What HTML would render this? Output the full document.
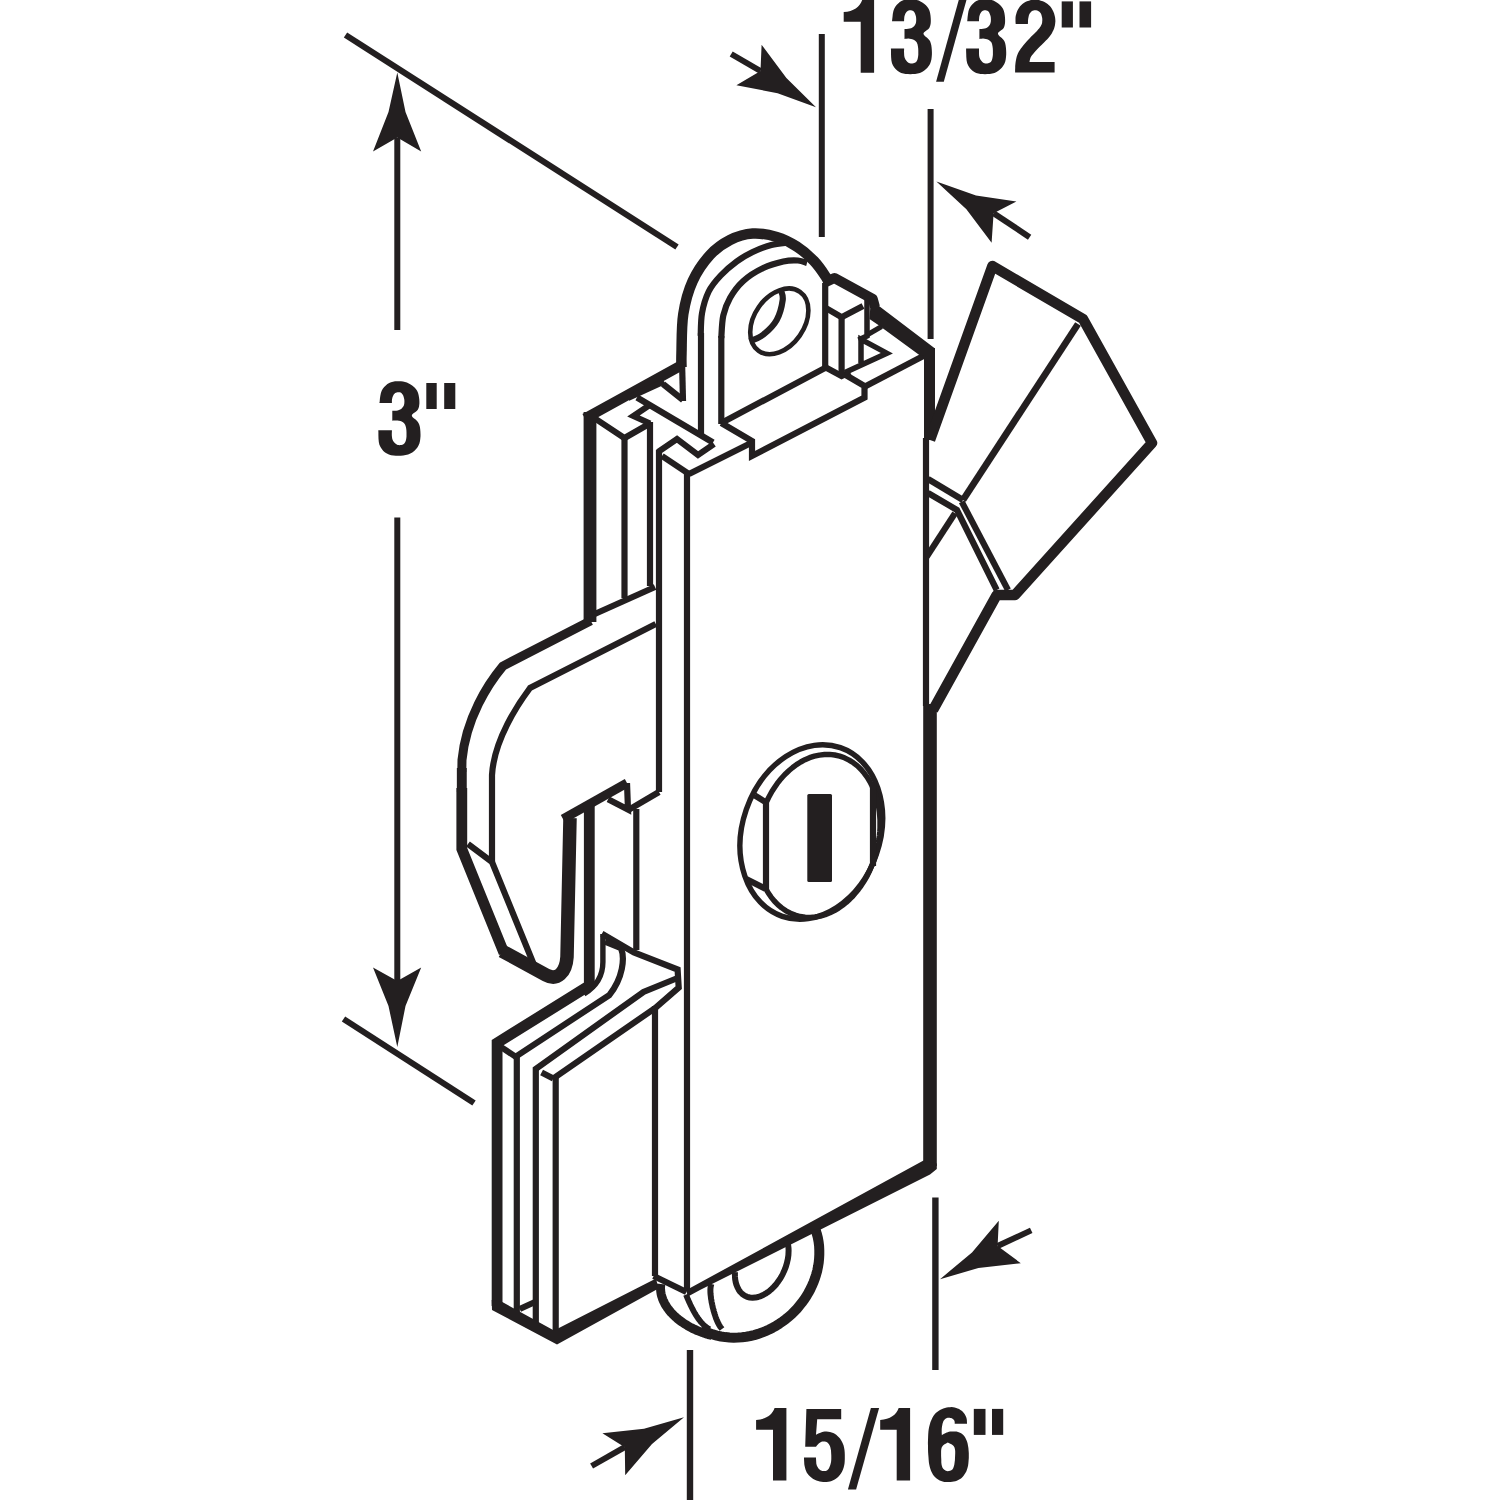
<!DOCTYPE html>
<html><head><meta charset="utf-8"><style>
html,body{margin:0;padding:0;background:#fff;}
svg{display:block;}
</style></head><body>
<svg xmlns="http://www.w3.org/2000/svg" width="1500" height="1500" viewBox="0 0 1500 1500">
<rect width="1500" height="1500" fill="#fff"/>
<g fill="none" stroke="#231f20">
<line x1="345.5" y1="35" x2="677" y2="247" stroke-width="6.2" stroke-linecap="butt"/>
<line x1="343.5" y1="1019" x2="474" y2="1103" stroke-width="6.2" stroke-linecap="butt"/>
<polygon points="397.3,72.5 405.5,112 421.2,151.5 397.3,137.5 373,151.5 388.5,112" fill="#231f20" stroke="none"/>
<line x1="397.3" y1="137.5" x2="397.3" y2="330" stroke-width="6" stroke-linecap="butt"/>
<polygon points="397.3,1047 388.5,1006 373,967.5 397.3,981 421.2,967.5 405.5,1006" fill="#231f20" stroke="none"/>
<line x1="397.3" y1="981" x2="397.3" y2="517.5" stroke-width="6" stroke-linecap="butt"/>
<line x1="821.8" y1="34" x2="821.8" y2="237" stroke-width="6" stroke-linecap="butt"/>
<line x1="930.6" y1="109" x2="930.6" y2="339" stroke-width="6" stroke-linecap="butt"/>
<polygon points="816,107.2 786.4,78 761.6,44.8 760.5,71 736.4,85.2 777.6,93.2" fill="#231f20" stroke="none"/>
<line x1="760.5" y1="71" x2="731.2" y2="54" stroke-width="6.0" stroke-linecap="butt"/>
<polygon points="936.4,181.6 976,195.6 1016.4,201.6 993.6,213.2 991.6,242.8 966.4,209.2" fill="#231f20" stroke="none"/>
<line x1="993.6" y1="213.2" x2="1029.6" y2="237.2" stroke-width="6.0" stroke-linecap="butt"/>
<line x1="935.4" y1="1197.6" x2="935.4" y2="1370" stroke-width="6.4" stroke-linecap="butt"/>
<line x1="690" y1="1350" x2="690" y2="1500" stroke-width="6.4" stroke-linecap="butt"/>
<polygon points="940,1279.2 972,1252.4 998.8,1220.8 997.6,1246 1020.8,1263.2 978.4,1268" fill="#231f20" stroke="none"/>
<line x1="997.6" y1="1246" x2="1031.2" y2="1230.4" stroke-width="6.0" stroke-linecap="butt"/>
<polygon points="684,1417.2 644,1428.8 602.4,1433.2 624.8,1447.2 625.2,1475.2 652,1444" fill="#231f20" stroke="none"/>
<line x1="624.8" y1="1447.2" x2="591.6" y2="1466" stroke-width="6.0" stroke-linecap="butt"/>
<polygon points="379.4,403.1 391.9,403.1 391.9,403.1 391.9,402.4 391.9,401.4 391.9,400.3 392.1,399.1 392.3,398.1 392.6,397.1 393,396.1 393.4,395.2 393.9,394.3 394.5,393.7 395.2,393.1 395.9,392.7 396.7,392.4 397.5,392.2 398.2,392.2 399,392.2 399.8,392.3 400.6,392.6 401.4,393 402,393.7 402.6,394.5 403.2,395.6 403.7,396.9 404,398.2 404.3,399.5 404.4,400.8 404.4,402.1 404.3,403.5 404,404.9 403.6,406 402.9,407.1 402.1,408 401.2,408.9 400.1,409.6 399,410.1 397.7,410.5 396.2,410.7 394.6,410.8 393.2,410.8 392.3,410.8 392.3,410.8 392.3,420.7 392.3,420.7 393.2,420.6 394.5,420.5 396.1,420.4 397.6,420.5 399,420.7 400.4,421.1 401.7,421.6 403,422.3 404.1,423.2 405,424.4 405.6,426 406.1,428.1 406.4,430.3 406.5,432.6 406.5,434.6 406.5,436.4 406.3,438.2 406,439.9 405.5,441.4 405,442.6 404.3,443.5 403.4,444.2 402.4,444.7 401.4,444.9 400.5,445.1 399.6,445.2 398.6,445.1 397.7,444.9 396.8,444.6 396,444 395.1,443.3 394.3,442.5 393.5,441.4 392.8,440.3 392.3,438.9 392,437.3 391.8,435.3 391.8,433.2 391.9,431.4 391.9,430.2 391.9,430.2 378.3,430.2 378.3,430.2 378.4,432.3 378.4,435.3 378.5,438.7 378.8,442 379.4,444.8 380.5,447.1 381.8,449.1 383.3,450.9 385.1,452.4 386.9,453.6 388.9,454.5 391.1,455.2 393.5,455.6 395.8,455.7 398.2,455.8 400.7,455.7 403.2,455.5 405.7,455.1 408.1,454.5 410.3,453.6 412.3,452.4 414.2,451 415.9,449.3 417.4,447.5 418.5,445.5 419.4,443.4 420,441.1 420.3,438.6 420.5,436.2 420.5,433.9 420.4,431.6 420.2,429.2 419.9,427 419.3,424.8 418.5,422.9 417.3,421.2 415.6,419.6 413.8,418.2 412.4,416.9 411.8,415.6 412.2,414.4 413.5,413.3 415.1,412.2 416.7,411 417.8,409.7 418.5,408.3 419,406.8 419.2,405.2 419.4,403.5 419.4,401.6 419.3,399.6 419,397.3 418.6,394.9 418,392.7 417.1,390.7 415.9,388.9 414.3,387.3 412.5,385.8 410.6,384.5 408.8,383.4 406.9,382.6 405,382 403,381.5 401,381.3 399,381.2 397,381.2 395,381.3 393,381.7 391,382.2 389.2,383 387.4,384.1 385.8,385.4 384.2,387 382.8,388.7 381.7,390.7 380.9,393.1 380.3,395.9 379.9,398.8 379.7,401.4 379.4,403.1" fill="#231f20" stroke="none"/>
<rect x="426.3" y="383" width="10.4" height="26" fill="#231f20" stroke="none"/>
<rect x="444.2" y="383" width="11.1" height="26" fill="#231f20" stroke="none"/>
<path d="M874.1,0 L874.1,72.8 L860.7,72.8 L860.7,21.8 L843.7,21.8 L843.7,12 C853.7,11.5 859.7,7 862.2,0 Z" fill="#231f20" stroke="none"/>
<polygon points="892,21.3 904.1,21.3 904.1,21.3 904.1,20.6 904.1,19.5 904.2,18.4 904.3,17.2 904.5,16.1 904.8,15.2 905.1,14.2 905.6,13.3 906.1,12.4 906.7,11.7 907.3,11.2 908,10.8 908.7,10.5 909.5,10.3 910.3,10.2 911,10.3 911.8,10.4 912.6,10.7 913.3,11.1 913.9,11.7 914.5,12.6 915.1,13.7 915.5,15 915.9,16.3 916.1,17.5 916.2,18.9 916.2,20.3 916.1,21.7 915.9,23 915.4,24.2 914.8,25.2 914.1,26.2 913.1,27 912.1,27.7 911.1,28.3 909.8,28.6 908.3,28.8 906.7,28.9 905.4,28.9 904.5,29 904.5,29 904.5,38.9 904.5,38.9 905.4,38.8 906.7,38.7 908.2,38.6 909.7,38.7 911.1,38.9 912.3,39.3 913.6,39.8 914.9,40.5 916,41.4 916.8,42.6 917.5,44.3 917.9,46.3 918.2,48.6 918.3,50.8 918.3,52.8 918.3,54.7 918.1,56.5 917.8,58.2 917.4,59.7 916.8,61 916.1,61.9 915.3,62.5 914.3,63 913.4,63.3 912.4,63.5 911.6,63.5 910.7,63.5 909.8,63.3 908.9,62.9 908.1,62.4 907.2,61.7 906.4,60.8 905.6,59.8 905,58.6 904.5,57.3 904.2,55.6 904.1,53.6 904,51.5 904.1,49.7 904.1,48.4 904.1,48.4 890.9,48.4 890.9,48.4 891,50.5 891,53.5 891.1,57 891.4,60.4 892,63.2 893,65.4 894.3,67.4 895.8,69.2 897.5,70.7 899.3,72 901.2,72.9 903.4,73.6 905.6,74 907.9,74.1 910.3,74.2 912.6,74.1 915.1,73.9 917.6,73.5 919.9,72.9 922,72 924,70.8 925.8,69.3 927.4,67.7 928.9,65.8 930,63.9 930.8,61.7 931.4,59.4 931.7,57 931.9,54.5 931.9,52.1 931.8,49.8 931.6,47.5 931.3,45.2 930.7,43.1 930,41.1 928.8,39.4 927.1,37.8 925.4,36.4 924,35.1 923.4,33.8 923.9,32.6 925.1,31.4 926.7,30.3 928.2,29.2 929.3,27.9 929.9,26.4 930.4,24.9 930.7,23.3 930.8,21.6 930.8,19.8 930.7,17.7 930.5,15.4 930.1,13 929.5,10.7 928.6,8.7 927.4,6.9 925.9,5.3 924.1,3.8 922.3,2.5 920.5,1.4 918.7,0.6 916.8,-0 914.9,-0.5 913,-0.7 911.1,-0.8 909.1,-0.8 907.1,-0.7 905.1,-0.3 903.2,0.2 901.5,1 899.8,2.1 898.2,3.4 896.6,5 895.3,6.8 894.2,8.7 893.4,11.1 892.8,14 892.5,16.9 892.2,19.5 892,21.3" fill="#231f20" stroke="none"/>
<polygon points="936.1,81.7 943.8,81.7 966.6,-0.5 958.9,-0.5" fill="#231f20" stroke="none"/>
<polygon points="967.2,21.3 979,21.3 979,21.3 979,20.6 979,19.5 979.1,18.4 979.2,17.2 979.4,16.1 979.7,15.2 980,14.2 980.5,13.3 981,12.4 981.5,11.7 982.1,11.2 982.8,10.8 983.6,10.5 984.3,10.3 985,10.2 985.8,10.3 986.5,10.4 987.3,10.7 988,11.1 988.6,11.7 989.2,12.6 989.7,13.7 990.2,15 990.6,16.3 990.8,17.5 990.9,18.9 990.9,20.3 990.8,21.7 990.5,23 990.1,24.2 989.5,25.2 988.7,26.2 987.9,27 986.9,27.7 985.8,28.3 984.6,28.6 983.1,28.8 981.6,28.9 980.3,28.9 979.4,29 979.4,29 979.4,38.9 979.4,38.9 980.3,38.8 981.5,38.7 983,38.6 984.5,38.7 985.8,38.9 987.1,39.3 988.3,39.8 989.5,40.5 990.6,41.4 991.5,42.6 992.1,44.3 992.5,46.3 992.8,48.6 992.9,50.8 992.9,52.8 992.9,54.7 992.7,56.5 992.4,58.2 992,59.7 991.5,61 990.8,61.9 990,62.5 989,63 988.1,63.3 987.2,63.5 986.3,63.5 985.4,63.5 984.5,63.3 983.7,62.9 982.9,62.4 982.1,61.7 981.3,60.8 980.5,59.8 979.9,58.6 979.4,57.3 979.1,55.6 979,53.6 979,51.5 979,49.7 979,48.4 979,48.4 966.1,48.4 966.1,48.4 966.1,50.5 966.2,53.5 966.3,57 966.6,60.4 967.2,63.2 968.2,65.4 969.4,67.4 970.9,69.2 972.5,70.7 974.3,72 976.2,72.9 978.3,73.6 980.5,74 982.8,74.1 985,74.2 987.3,74.1 989.8,73.9 992.2,73.5 994.5,72.9 996.5,72 998.4,70.8 1000.2,69.3 1001.8,67.7 1003.2,65.8 1004.3,63.9 1005.2,61.7 1005.7,59.4 1006,57 1006.2,54.5 1006.2,52.1 1006.1,49.8 1005.9,47.5 1005.6,45.2 1005.1,43.1 1004.3,41.1 1003.2,39.4 1001.5,37.8 999.8,36.4 998.5,35.1 997.9,33.8 998.3,32.6 999.5,31.4 1001.1,30.3 1002.6,29.2 1003.7,27.9 1004.3,26.4 1004.7,24.9 1005,23.3 1005.1,21.6 1005.1,19.8 1005,17.7 1004.8,15.4 1004.4,13 1003.8,10.7 1003,8.7 1001.8,6.9 1000.3,5.3 998.6,3.8 996.8,2.5 995.1,1.4 993.3,0.6 991.5,-0 989.6,-0.5 987.7,-0.7 985.8,-0.8 983.9,-0.8 982,-0.7 980,-0.3 978.2,0.2 976.4,1 974.8,2.1 973.2,3.4 971.7,5 970.4,6.8 969.3,8.7 968.5,11.1 968,14 967.6,16.9 967.4,19.5 967.2,21.3" fill="#231f20" stroke="none"/>
<path d="M1015.7,24 L1027.9,24 L1027.9,24 L1027.9,23.3 L1028,22.2 L1028,21 L1028.1,19.8 L1028.2,18.7 L1028.4,17.7 L1028.6,16.7 L1028.8,15.7 L1029.1,14.7 L1029.5,13.9 L1030,13.1 L1030.6,12.4 L1031.2,11.7 L1032,11.1 L1032.7,10.7 L1033.5,10.4 L1034.4,10.2 L1035.3,10.2 L1036.2,10.2 L1037,10.4 L1037.8,10.7 L1038.6,11.2 L1039.4,11.8 L1040.1,12.5 L1040.7,13.3 L1041.2,14.3 L1041.6,15.4 L1041.9,16.7 L1042.2,18 L1042.3,19.2 L1042.3,20.4 L1042.2,21.6 L1042.1,22.7 L1041.8,23.9 L1041.3,25.1 L1040.7,26.2 L1040,27.3 L1039.1,28.5 L1038.1,29.6 L1037,30.9 L1035.7,32.3 L1034.2,33.7 L1032.6,35.2 L1031,36.8 L1029.5,38.4 L1028,40 L1026.4,41.8 L1024.9,43.5 L1023.4,45.2 L1022.1,46.9 L1020.9,48.5 L1019.9,50.1 L1018.9,51.6 L1018,53.2 L1017.3,54.9 L1016.7,56.7 L1016.3,58.5 L1015.9,60.4 L1015.6,62.2 L1015.4,64 L1015.2,65.9 L1015.2,67.9 L1015.1,69.7 L1015.1,71.4 L1015.1,72.5 L1015.1,72.5 L1054.6,72.5 L1054.6,61.9 L1029.5,61.9 L1029.5,61.9 L1029.6,61.2 L1029.8,60.2 L1030.1,59 L1030.5,57.8 L1031.1,56.5 L1032,55.2 L1033.1,53.9 L1034.3,52.5 L1035.6,51 L1037,49.6 L1038.4,48.1 L1039.9,46.6 L1041.5,45.1 L1043,43.6 L1044.5,42.1 L1045.9,40.6 L1047.3,39.2 L1048.6,37.7 L1049.8,36.2 L1050.9,34.7 L1051.9,33.2 L1052.7,31.6 L1053.5,30 L1054.1,28.4 L1054.6,26.7 L1055,25 L1055.2,23.2 L1055.4,21.3 L1055.3,19.5 L1055.1,17.6 L1054.7,15.7 L1054.1,13.6 L1053.3,11.6 L1052.4,9.7 L1051.4,8 L1050.3,6.5 L1049,5.2 L1047.6,4 L1046.1,3 L1044.5,2.1 L1042.8,1.3 L1040.9,0.7 L1038.9,0.1 L1036.9,-0.2 L1034.9,-0.3 L1032.9,-0.2 L1030.9,0.1 L1028.9,0.7 L1027,1.3 L1025.3,2.1 L1023.8,3 L1022.4,4.1 L1021.1,5.3 L1019.9,6.6 L1018.9,8 L1018,9.5 L1017.2,11 L1016.6,12.7 L1016.1,14.4 L1015.7,16 L1015.5,17.7 L1015.5,19.6 L1015.5,21.4 L1015.6,22.9 L1015.7,24 Z" fill="#231f20" fill-rule="evenodd" stroke="none"/>
<rect x="1061.7" y="1.4" width="11.2" height="26.1" fill="#231f20" stroke="none"/>
<rect x="1079.5" y="1.4" width="11.6" height="26.1" fill="#231f20" stroke="none"/>
<path d="M786.4,1408 L786.4,1480.4 L773,1480.4 L773,1429.7 L756.1,1429.7 L756.1,1419.9 C766.1,1419.4 772.1,1414.9 774.6,1408 Z" fill="#231f20" stroke="none"/>
<path d="M806.4,1409 L841.2,1409 L841.2,1419.2 L817.2,1419.2 L816,1434.8 L816,1434.8 L817,1434.3 L818.3,1433.6 L819.9,1432.9 L821.6,1432.2 L823.2,1431.8 L824.8,1431.6 L826.5,1431.6 L828.3,1431.7 L830,1432 L831.6,1432.4 L833.2,1433 L834.7,1433.8 L836.2,1434.8 L837.5,1435.9 L838.8,1437.2 L840,1438.6 L841.1,1440.2 L842.1,1441.9 L842.9,1443.7 L843.6,1445.6 L844.1,1447.7 L844.5,1450 L844.7,1452.3 L844.8,1454.7 L844.8,1457 L844.8,1459.2 L844.7,1461.5 L844.5,1463.7 L844.1,1465.8 L843.6,1467.8 L842.9,1469.7 L842.1,1471.5 L841.1,1473.2 L840,1474.8 L838.8,1476.2 L837.5,1477.5 L836.2,1478.6 L834.7,1479.5 L833.2,1480.3 L831.6,1481 L830,1481.5 L828.3,1481.8 L826.6,1481.9 L824.9,1482 L823.2,1481.9 L821.5,1481.7 L819.8,1481.5 L818.1,1481.1 L816.4,1480.5 L814.8,1479.8 L813.2,1478.9 L811.6,1477.8 L810.1,1476.5 L808.8,1475.2 L807.6,1473.8 L806.7,1472.4 L806,1470.8 L805.4,1469.2 L805,1467.6 L804.6,1466 L804.3,1464.2 L804.2,1462.3 L804.1,1460.4 L804,1458.8 L804,1457.6 L804,1457.6 L816,1457.6 L816,1457.6 L816,1458.6 L816.1,1460.1 L816.2,1461.7 L816.3,1463.4 L816.6,1464.8 L817,1466 L817.6,1467.1 L818.2,1468 L818.9,1468.9 L819.6,1469.6 L820.4,1470.2 L821.2,1470.6 L822.1,1470.9 L822.9,1471 L823.8,1471.1 L824.7,1471.1 L825.6,1470.9 L826.4,1470.7 L827.3,1470.2 L828,1469.6 L828.7,1468.7 L829.3,1467.6 L829.8,1466.3 L830.3,1465 L830.7,1463.6 L831,1462.2 L831.2,1460.6 L831.3,1459 L831.3,1457.4 L831.3,1455.8 L831.2,1454.1 L831.1,1452.3 L831,1450.5 L830.7,1448.9 L830.4,1447.4 L830,1446.2 L829.4,1445 L828.8,1444.1 L828.1,1443.3 L827.4,1442.6 L826.6,1442.1 L825.8,1441.7 L824.9,1441.5 L824.1,1441.4 L823.2,1441.4 L822.3,1441.5 L821.5,1441.8 L820.6,1442.2 L819.8,1442.7 L819,1443.2 L818.3,1443.9 L817.6,1444.7 L816.9,1445.5 L816.4,1446.3 L816,1446.8 L816,1446.8 L805.2,1446.8 L806.4,1409 Z" fill="#231f20" fill-rule="evenodd" stroke="none"/>
<polygon points="847.9,1489.5 856.1,1489.5 879.1,1408 870.9,1408" fill="#231f20" stroke="none"/>
<path d="M910.1,1408 L910.1,1480.4 L896.7,1480.4 L896.7,1429.7 L880.2,1429.7 L880.2,1419.9 C890.2,1419.4 896.2,1414.9 898.7,1408 Z" fill="#231f20" stroke="none"/>
<path d="M954.7,1423.8 L967,1423.8 L967,1423.8 L967,1423 L966.9,1421.8 L966.9,1420.5 L966.7,1419.1 L966.4,1417.8 L965.9,1416.6 L965.3,1415.3 L964.6,1414 L963.8,1412.9 L962.8,1411.8 L961.7,1410.8 L960.4,1409.9 L959.1,1409.1 L957.6,1408.4 L956.2,1407.9 L954.7,1407.5 L953.2,1407.3 L951.6,1407.1 L950,1407.2 L948.4,1407.3 L946.7,1407.6 L945,1408 L943.3,1408.5 L941.6,1409.2 L940,1410 L938.5,1410.9 L937.1,1411.9 L935.8,1413.1 L934.5,1414.4 L933.4,1416 L932.4,1417.8 L931.4,1419.9 L930.5,1422.1 L929.8,1424.4 L929.2,1426.8 L928.7,1429.3 L928.4,1431.8 L928.2,1434.5 L928.1,1437.2 L928,1440 L927.9,1442.9 L928,1446 L928,1449.1 L928.1,1452.2 L928.3,1455 L928.5,1457.6 L928.7,1460.2 L928.9,1462.6 L929.3,1464.8 L929.8,1467 L930.4,1469.1 L931.1,1471 L932,1472.8 L932.9,1474.5 L934,1476 L935.2,1477.3 L936.6,1478.5 L938.1,1479.5 L939.7,1480.4 L941.2,1481.1 L942.7,1481.6 L944.3,1481.9 L945.9,1482 L947.4,1482 L949,1482 L950.6,1482 L952.2,1481.8 L953.8,1481.6 L955.3,1481.3 L956.8,1480.8 L958.2,1480.1 L959.6,1479.3 L961,1478.4 L962.3,1477.2 L963.4,1476 L964.4,1474.6 L965.4,1473.1 L966.3,1471.4 L967,1469.6 L967.6,1467.6 L968.1,1465.4 L968.4,1463.1 L968.6,1460.6 L968.8,1458.1 L968.8,1455.6 L968.8,1453.1 L968.6,1450.6 L968.4,1448.1 L968,1445.7 L967.6,1443.6 L967.1,1441.7 L966.4,1440 L965.7,1438.4 L964.9,1437 L964,1435.8 L963,1434.7 L961.9,1433.8 L960.6,1433 L959.4,1432.4 L958,1431.9 L956.5,1431.6 L954.9,1431.4 L953.2,1431.4 L951.6,1431.5 L950.2,1431.6 L948.9,1431.8 L947.8,1432.2 L946.7,1432.6 L945.7,1433 L944.8,1433.4 L944,1433.8 L943.3,1434.2 L942.7,1434.6 L942.2,1435 L941.8,1435.2 L941.8,1435.2 L941.8,1434.2 L941.7,1432.8 L941.7,1431.2 L941.7,1429.6 L941.8,1428 L942,1426.5 L942.3,1424.9 L942.6,1423.4 L943.1,1422 L943.6,1420.8 L944.3,1419.9 L945.1,1419.1 L946,1418.5 L946.9,1418.1 L947.8,1417.8 L948.7,1417.7 L949.6,1417.7 L950.4,1417.9 L951.3,1418.1 L952,1418.4 L952.6,1418.8 L953.2,1419.2 L953.7,1419.7 L954.1,1420.3 L954.4,1420.8 L954.6,1421.4 L954.7,1422.1 L954.7,1422.8 L954.7,1423.4 L954.7,1423.8 Z M947.8,1442.4 L946.9,1443 L945.6,1443.7 L944.1,1444.6 L942.8,1445.8 L941.8,1447.2 L941.3,1449 L941.1,1451.1 L941.1,1453.5 L941.1,1455.8 L941.2,1458 L941.3,1460.1 L941.3,1462.2 L941.5,1464.2 L941.9,1466.1 L942.4,1467.6 L943.2,1468.8 L944.3,1469.8 L945.4,1470.5 L946.7,1471 L947.8,1471.2 L948.9,1471.1 L950.1,1470.8 L951.3,1470.2 L952.4,1469.4 L953.2,1468.2 L953.8,1466.6 L954.3,1464.7 L954.6,1462.5 L954.9,1460.2 L955,1458 L955.1,1455.8 L955.2,1453.4 L955.2,1451.1 L954.9,1449 L954.4,1447.2 L953.4,1445.8 L951.9,1444.6 L950.3,1443.7 L948.8,1443 L947.8,1442.4 Z" fill="#231f20" fill-rule="evenodd" stroke="none"/>
<rect x="973.8" y="1408.9" width="11.7" height="26" fill="#231f20" stroke="none"/>
<rect x="992" y="1408.9" width="11.2" height="26" fill="#231f20" stroke="none"/>
<line x1="687" y1="472" x2="687" y2="1291" stroke-width="6.2" stroke-linecap="butt"/>
<line x1="926" y1="438" x2="926" y2="706" stroke-width="6.2" stroke-linecap="butt"/>
<line x1="930" y1="704" x2="930" y2="1166" stroke-width="13.6" stroke-linecap="butt"/>
<polygon points="686,1290.3 923.5,1160.4 936.8,1163.5 936.8,1169 930,1174.5 700,1290.1 688,1296.5" fill="#231f20" stroke="none"/>
<line x1="689" y1="474" x2="752" y2="442.5" stroke-width="6.2" stroke-linecap="butt"/>
<line x1="865" y1="386.5" x2="931" y2="352" stroke-width="6.2" stroke-linecap="butt"/>
<polyline points="662,456 689,474" stroke-width="6.2" stroke-linejoin="miter" stroke-linecap="butt"/>
<path d="M681.5,367 C681.5,364.7 681.2,361.8 681.5,353 C681.8,344.2 681.4,326 683.3,314 C685.2,302 688.2,290.8 692.7,281 C697.2,271.2 703.8,261.8 710,255 C716.2,248.2 722.9,243.6 730,240 C737.1,236.4 744.9,234 752.7,233.5 C760.5,233 769.4,234.8 776.7,237 C784,239.2 790.5,242.5 796.7,246.5 C802.9,250.5 809.1,255.9 814,261 C818.9,266.1 823.5,273.2 826,277 C828.5,280.8 828.5,282.8 829,284" stroke-width="10.5" stroke-linejoin="round" stroke-linecap="butt"/>
<polyline points="826,282 834.4,278 872.8,299 875,307" stroke-width="10" stroke-linejoin="round" stroke-linecap="butt"/>
<polygon points="871,296 879,306 935,348.5 935,357 920,355.5 878.3,325 869.5,319" fill="#231f20" stroke="none"/>
<line x1="929.5" y1="348" x2="929.5" y2="440" stroke-width="11" stroke-linecap="butt"/>
<polyline points="682,365 585,418.5" stroke-width="10.5" stroke-linejoin="miter" stroke-linecap="butt"/>
<line x1="590" y1="412" x2="590" y2="622" stroke-width="12.8" stroke-linecap="butt"/>
<line x1="682" y1="360" x2="683" y2="401" stroke-width="6.2" stroke-linecap="butt"/>
<polyline points="663,384 683,400" stroke-width="6.2" stroke-linejoin="miter" stroke-linecap="butt"/>
<polyline points="628,398 664,381.5" stroke-width="6" stroke-linejoin="miter" stroke-linecap="butt"/>
<polyline points="595,418.5 624.5,438 649,424" stroke-width="6.2" stroke-linejoin="miter" stroke-linecap="butt"/>
<line x1="624.5" y1="436" x2="624.5" y2="598" stroke-width="6.2" stroke-linecap="butt"/>
<line x1="650" y1="422" x2="650" y2="586" stroke-width="6.2" stroke-linecap="butt"/>
<polyline points="649,405.5 633.5,416 650,423.5" stroke-width="6.2" stroke-linejoin="miter" stroke-linecap="butt"/>
<polyline points="637,397.5 713,442.5" stroke-width="6.2" stroke-linejoin="miter" stroke-linecap="butt"/>
<polyline points="658,452 677,439 698,455 714,444" stroke-width="6.2" stroke-linejoin="miter" stroke-linecap="butt"/>
<line x1="659" y1="450" x2="659" y2="792" stroke-width="6.2" stroke-linecap="butt"/>
<line x1="701" y1="333" x2="701" y2="436" stroke-width="6.2" stroke-linecap="butt"/>
<line x1="721.3" y1="336" x2="721.3" y2="424" stroke-width="6.2" stroke-linecap="butt"/>
<path d="M700.7,336 C700.9,332.2 700.7,320.7 702,313.3 C703.3,305.9 705.6,297.8 708.7,291.5 C711.8,285.2 716,280.5 720.7,275.5 C725.4,270.5 731.4,265.4 736.7,261.5 C742,257.6 746.9,254.8 752.7,252 C758.5,249.2 765.4,246.6 771.3,245 C777.2,243.4 785.2,242.9 788,242.5" stroke-width="6.2" stroke-linejoin="round" stroke-linecap="butt"/>
<path d="M721.3,338 C721.6,334.2 721.8,322.2 723.3,315.5 C724.8,308.8 726.7,303.8 730,298 C733.3,292.2 737.8,286 743.3,281 C748.8,276 756.6,271.2 763.3,268 C770,264.8 777.5,262.8 783.3,261.5 C789.1,260.2 794,260.2 798,260.5 C802,260.8 805.5,262.6 807,263" stroke-width="6.2" stroke-linejoin="round" stroke-linecap="butt"/>
<line x1="825.2" y1="283" x2="825.2" y2="367" stroke-width="6.2" stroke-linecap="butt"/>
<polyline points="721.3,423 825.9,367.5 841.6,376 850,372" stroke-width="6.2" stroke-linejoin="miter" stroke-linecap="butt"/>
<ellipse cx="779.3" cy="321.3" rx="36" ry="25" transform="rotate(-55 779.3 321.3)" stroke-width="4.6"/>
<path d="M780.7,289.3 C781,291.1 783.4,294.9 782.7,300 C782,305.1 779.9,314.2 776.7,320 C773.5,325.8 767.8,331.1 763.3,334.7 C758.8,338.2 752.2,340.2 750,341.3" stroke-width="6.2" stroke-linejoin="round" stroke-linecap="butt"/>
<polyline points="721.3,423 752,441 752,456 864.5,397.5 864.5,386 844,374" stroke-width="6.2" stroke-linejoin="miter" stroke-linecap="butt"/>
<polyline points="825.2,307.6 841.6,317.2 863,306" stroke-width="6.2" stroke-linejoin="miter" stroke-linecap="butt"/>
<line x1="841.6" y1="317" x2="841.6" y2="376" stroke-width="6.2" stroke-linecap="butt"/>
<polyline points="867,300 867,336 858.5,340" stroke-width="5.5" stroke-linejoin="miter" stroke-linecap="butt"/>
<polyline points="867,335 881.6,326.5" stroke-width="5" stroke-linejoin="miter" stroke-linecap="butt"/>
<polyline points="861,363 861,339.3 886.8,353.2 845,372.5" stroke-width="5.5" stroke-linejoin="miter" stroke-linecap="butt"/>
<path d="M590.8,620.7 L503,666 C488,684 466,718 462,760 L461.8,772" stroke-width="9" stroke-linejoin="miter" stroke-linecap="butt"/>
<line x1="461.8" y1="768" x2="461.8" y2="792" stroke-width="9.9" stroke-linecap="butt"/>
<path d="M461.8,788 L461.8,849 L504,953" stroke-width="10.8" stroke-linejoin="miter" stroke-linecap="butt"/>
<path d="M502,951 L546,975 C557,981 566,973 567,957 L570,818" stroke-width="13.5" stroke-linejoin="round" stroke-linecap="butt"/>
<polyline points="563,819 627,783" stroke-width="9" stroke-linejoin="miter" stroke-linecap="butt"/>
<polyline points="592.5,615 655,587" stroke-width="6.2" stroke-linejoin="miter" stroke-linecap="butt"/>
<path d="M655.8,624 L530,688 C518,704 494,740 492,775 L492,862" stroke-width="6.2" stroke-linejoin="miter" stroke-linecap="butt"/>
<polyline points="468,844 492,862 534,965" stroke-width="6.2" stroke-linejoin="miter" stroke-linecap="butt"/>
<polyline points="659,792 629,809.6" stroke-width="6.2" stroke-linejoin="miter" stroke-linecap="butt"/>
<polyline points="608.1,799.2 628,809.6 627,783" stroke-width="6.2" stroke-linejoin="miter" stroke-linecap="butt"/>
<line x1="636.3" y1="809" x2="636.3" y2="950" stroke-width="6.2" stroke-linecap="butt"/>
<polyline points="497.1,1306 497.1,1043 589.3,985.5 589.3,806" stroke-width="10.8" stroke-linejoin="miter" stroke-linecap="butt"/>
<path d="M584,994 C597,986 602.9,975 602.9,962 L602.9,934" stroke-width="5.4" stroke-linejoin="miter" stroke-linecap="butt"/>
<polyline points="601.9,933.7 633.9,952.4 677.6,969.5 678.7,987.6 655.2,1008 554,1078" stroke-width="6.2" stroke-linejoin="miter" stroke-linecap="butt"/>
<path d="M605,941.7 L621,948.1 C625,958 623,978 609.3,995.1 L515.2,1057" stroke-width="6.2" stroke-linejoin="miter" stroke-linecap="butt"/>
<polyline points="501,1047 516.8,1057.5" stroke-width="6.2" stroke-linejoin="miter" stroke-linecap="butt"/>
<polyline points="677.6,978 643.5,991.9 534.3,1070" stroke-width="6.2" stroke-linejoin="miter" stroke-linecap="butt"/>
<polyline points="541.6,1072.5 553.3,1078.4" stroke-width="6.2" stroke-linejoin="miter" stroke-linecap="butt"/>
<line x1="516.8" y1="1055" x2="516.8" y2="1318" stroke-width="6.2" stroke-linecap="butt"/>
<line x1="535.8" y1="1068" x2="535.8" y2="1323" stroke-width="6.2" stroke-linecap="butt"/>
<line x1="555.7" y1="1076" x2="555.7" y2="1334" stroke-width="6.2" stroke-linecap="butt"/>
<line x1="655" y1="1006" x2="655" y2="1276" stroke-width="6.2" stroke-linecap="butt"/>
<polygon points="491.7,1300 502.3,1302 554,1330.5 656,1278.5 658.5,1288.5 557,1344.5 492,1310" fill="#231f20" stroke="none"/>
<polyline points="519.7,1309 535,1302" stroke-width="6.2" stroke-linejoin="miter" stroke-linecap="butt"/>
<polyline points="653.6,1276 686.4,1292" stroke-width="6.2" stroke-linejoin="miter" stroke-linecap="butt"/>
<ellipse cx="811.3" cy="832" rx="68.8" ry="89.2" transform="rotate(19 811.3 832)" stroke-width="5.4"/>
<polyline points="766.8,801.2 768.5,797.7 770.4,794.2 772.4,790.7 774.7,787.2 777.1,783.7 779.7,780.3 782.6,777 785.7,773.7 789.1,770.5 792.7,767.5 796.5,764.6 800.7,762 805,759.7 809.6,757.7 814.4,756.2 819.4,755.1 824.5,754.5 829.6,754.4 834.7,755 839.7,756.1 844.5,757.8 849.1,760.1 853.4,762.8 857.4,765.9 861.1,769.5 864.3,773.3 867.3,777.3 869.8,781.5 872,785.8 873.9,790.1 875.5,794.5 876.8,798.8 877.9,803.2 878.7,807.4 879.3,811.6 879.7,815.8 880,819.9 880,823.9 880,827.8 879.8,831.7 879.4,835.5 878.9,839.3 878.3,843 877.6,846.7 876.8,850.3 875.8,854 874.8,857.6 873.6,861.1 872.2,864.7 870.7,868.2 869.1,871.8 867.4,875.3 865.4,878.8 863.3,882.3 861,885.8 858.5,889.2 855.8,892.6 852.9,896 849.7,899.2 846.2,902.4 842.5,905.3 838.6,908.1 834.4,910.6 829.9,912.8 825.2,914.7 820.4,916.1 815.4,917 810.3,917.4 805.1,917.2 800.1,916.5 795.1,915.1 790.4,913.2 785.9,910.8 781.7,907.9 777.8,904.6 774.3,901 771.1,897.1 768.3,893 765.9,888.8" stroke-width="5.4" stroke-linejoin="round" stroke-linecap="butt"/>
<line x1="766" y1="800" x2="766" y2="890" stroke-width="6.2" stroke-linecap="butt"/>
<polyline points="754.7,795.3 765.3,802" stroke-width="6.2" stroke-linejoin="miter" stroke-linecap="butt"/>
<polyline points="746.7,879.3 765.3,888.7" stroke-width="6.2" stroke-linejoin="miter" stroke-linecap="butt"/>
<line x1="873" y1="783" x2="873" y2="866" stroke-width="6.2" stroke-linecap="butt"/>
<rect x="807.3" y="794" width="24.7" height="88" rx="1.5" fill="#231f20" stroke="none"/>
<polyline points="930,440 992.4,266 1083,319 1152,443 1015,595 996.7,595 933,710" stroke-width="10.5" stroke-linejoin="round" stroke-linecap="butt"/>
<polyline points="1078,324 963,500" stroke-width="6.8" stroke-linejoin="miter" stroke-linecap="butt"/>
<polyline points="963,500 928,479" stroke-width="6.2" stroke-linejoin="miter" stroke-linecap="butt"/>
<polyline points="928,493 957,510 996.7,590" stroke-width="6.2" stroke-linejoin="miter" stroke-linecap="butt"/>
<polyline points="961.7,501.7 1008,590" stroke-width="6.2" stroke-linejoin="miter" stroke-linecap="butt"/>
<polyline points="926.7,556.7 955,513.3" stroke-width="6.2" stroke-linejoin="miter" stroke-linecap="butt"/>
<polyline points="815.4,1229.2 816.7,1233.4 817.8,1237.5 818.6,1241.8 819.1,1246 819.3,1250.2 819.3,1254.4 819.1,1258.6 818.7,1262.7 818,1266.8 817.2,1270.8 816.1,1274.7 814.9,1278.5 813.5,1282.3 811.9,1285.9 810.2,1289.5 808.3,1293 806.3,1296.3 804.2,1299.6 801.9,1302.7 799.5,1305.7 797,1308.7 794.3,1311.5 791.6,1314.2 788.7,1316.7 785.7,1319.2 782.6,1321.5 779.4,1323.7 776.1,1325.8 772.7,1327.7 769.2,1329.5 765.6,1331.1 761.9,1332.6 758.1,1333.9 754.2,1335.1 750.2,1336 746.2,1336.7 742.1,1337.3 738,1337.6 733.8,1337.7 729.5,1337.5 725.3,1337.1 721.1,1336.5 716.9,1335.6 712.7,1334.4 708.7,1332.9 704.7,1331.2 700.8,1329.1" stroke-width="10" stroke-linejoin="round" stroke-linecap="butt"/>
<polyline points="660.8,1284 660.6,1286 660.5,1287.9 660.6,1289.9 660.8,1291.9 661.1,1293.8 661.6,1295.8 662.2,1297.7 662.8,1299.5 663.6,1301.3 664.5,1303.1 665.4,1304.8 666.5,1306.5 667.6,1308.1 668.7,1309.6 669.9,1311.1 671.1,1312.6 672.4,1313.9 673.7,1315.3 675,1316.5 676.4,1317.7 677.7,1318.9 679.1,1320 680.5,1321 681.9,1322 683.2,1322.9 684.6,1323.9 686,1324.7 687.3,1325.5 688.7,1326.3 690.1,1327.1 691.4,1327.8 692.7,1328.5 694.1,1329.1 695.4,1329.7 696.7,1330.3 698,1330.9 699.3,1331.4 700.6,1331.9 701.9,1332.4 703.2,1332.8 704.5,1333.3 705.7,1333.7 707,1334.1 708.2,1334.5 709.5,1334.8 710.8,1335.2 712,1335.5" stroke-width="9" stroke-linejoin="round" stroke-linecap="butt"/>
<polyline points="686,1294.7 686.5,1295.9 687,1297.1 687.5,1298.3 688,1299.5 688.5,1300.6 689,1301.7 689.5,1302.8 690,1303.9 690.5,1305 691,1306 691.5,1307 692,1308 692.5,1309 693,1309.9 693.5,1310.9 694,1311.8 694.5,1312.7 695,1313.5 695.5,1314.4 696,1315.2 696.5,1316 697,1316.8 697.5,1317.5 698,1318.3 698.6,1319 699.1,1319.7 699.6,1320.4 700.1,1321 700.6,1321.7 701.1,1322.3 701.6,1322.8 702.2,1323.4 702.7,1324 703.2,1324.5 703.7,1325 704.2,1325.5 704.8,1325.9 705.3,1326.3 705.8,1326.8 706.3,1327.2 706.8,1327.5 707.4,1327.9 707.9,1328.2 708.4,1328.5 708.9,1328.8 709.5,1329.1 710,1329.3" stroke-width="5.8" stroke-linejoin="round" stroke-linecap="butt"/>
<polyline points="711.3,1284 710.7,1286.4 710.4,1289.1 710.4,1291.5 710.5,1293.7 710.7,1295.5 710.9,1297 711,1298.3 711.2,1299.4 711.4,1300.3 711.5,1301.1 711.6,1301.9 711.7,1302.5 711.9,1303.1 712,1303.7 712.1,1304.2 712.2,1304.7 712.3,1305.1 712.4,1305.5 712.5,1305.9 712.5,1306.3 712.6,1306.7 712.7,1307.1 712.8,1307.5 712.9,1307.8 713,1308.2 713.1,1308.6 713.2,1308.9 713.3,1309.3 713.4,1309.7 713.5,1310.1 713.6,1310.6 713.7,1311 713.9,1311.5 714,1312 714.2,1312.6 714.4,1313.2 714.6,1313.9 714.9,1314.7 715.2,1315.6 715.5,1316.6 715.9,1317.8 716.4,1319.1 717.1,1320.7 717.9,1322.6 719,1324.7 720.4,1327 722,1329" stroke-width="6" stroke-linejoin="round" stroke-linecap="butt"/>
<polyline points="735,1272.1 734.9,1274.5 735,1276.9 735.2,1279.5 735.7,1282.1 736.4,1284.7 737.4,1287.2 738.7,1289.7 740.3,1292 742.3,1294 744.6,1295.6 747.1,1296.8 749.8,1297.5 752.6,1297.8 755.4,1297.6 758.1,1297 760.8,1296.1 763.2,1295 765.5,1293.7 767.6,1292.3 769.6,1290.8 771.4,1289.3 773,1287.7 774.5,1286.1 775.9,1284.6 777.1,1283 778.3,1281.4 779.4,1279.8 780.4,1278.3 781.3,1276.7 782.2,1275.1 783,1273.5 783.7,1271.9 784.5,1270.2 785.1,1268.6 785.8,1266.8 786.3,1265.1 786.9,1263.2 787.3,1261.3 787.8,1259.3 788.1,1257.3 788.4,1255.1 788.5,1252.8 788.6,1250.5 788.5,1248 788.2,1245.5 787.7,1242.9 787,1240.3" stroke-width="6" stroke-linejoin="round" stroke-linecap="butt"/>
</g>
</svg>
</body></html>
